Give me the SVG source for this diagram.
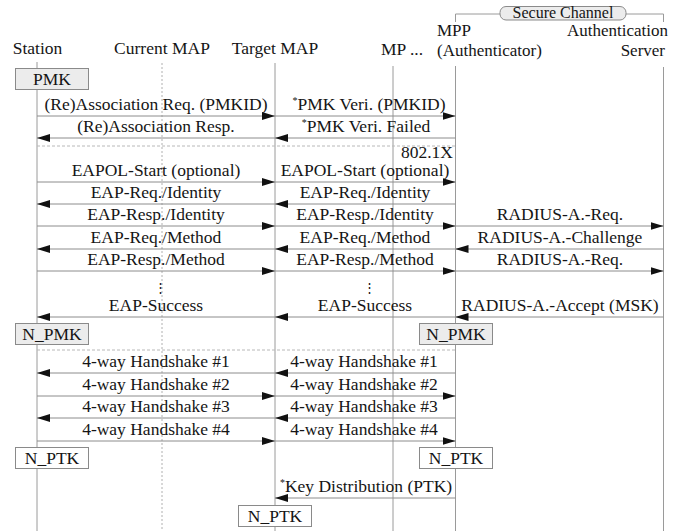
<svg xmlns="http://www.w3.org/2000/svg" width="681" height="531" viewBox="0 0 681 531">
  <style>
    text { font-family: "Liberation Serif", "Times New Roman", serif; font-size: 17.5px; fill: #151515; }
    .mid { text-anchor: middle; }
    .end { text-anchor: end; }
    .hd2 { font-size: 17px; }
    .life { stroke: #9a9a9a; stroke-width: 1; fill: none; }
    .dash { stroke: #b0b0b0; stroke-width: 1; stroke-dasharray: 2 2; fill: none; }
    .sep { stroke: #b8b8b8; stroke-width: 1; stroke-dasharray: 3 2; fill: none; }
    .msg { stroke: #8c8c8c; stroke-width: 1; fill: none; marker-end: url(#arrow); }
    .box { fill: #ececec; stroke: #8a8a8a; stroke-width: 1; }
    .wbox { fill: #ffffff; stroke: #8a8a8a; stroke-width: 1; }
    .sup { font-size: 10px; }
  </style>
  <defs>
    <marker id="arrow" markerUnits="userSpaceOnUse" markerWidth="13" markerHeight="8" refX="13" refY="4" orient="auto">
      <path d="M0,0 L13,4 L0,8 z" fill="#111"/>
    </marker>
  </defs>

  <rect width="681" height="531" fill="#ffffff"/>

  <!-- lifelines and headers -->
  <g id="station">
    <text class="mid" x="37.5" y="54">Station</text>
    <line class="life" x1="37" y1="62" x2="37" y2="531"/>
  </g>
  <g id="current-map">
    <text class="mid" x="162" y="54">Current MAP</text>
    <line class="dash" x1="162" y1="63" x2="162" y2="531"/>
  </g>
  <g id="target-map">
    <text class="mid" x="275" y="54">Target MAP</text>
    <line class="life" x1="275" y1="63" x2="275" y2="531"/>
  </g>
  <g id="mp">
    <text class="mid" x="402" y="55">MP ...</text>
    <line class="life" x1="393" y1="66" x2="393" y2="531"/>
  </g>
  <g id="mpp">
    <text class="hd2" x="437" y="36">MPP</text>
    <text class="hd2" x="437" y="55.5">(Authenticator)</text>
    <line class="life" x1="455.5" y1="66" x2="455.5" y2="531"/>
  </g>
  <g id="auth-server">
    <text class="end hd2" x="668" y="36">Authentication</text>
    <text class="end hd2" x="665" y="55.5">Server</text>
    <line class="life" x1="663.5" y1="67" x2="663.5" y2="531"/>
  </g>
  <g id="secure-channel">
    <path class="life" d="M455.5,22 V14 H500 M626,14 H663.5 V22"/>
    <rect x="500" y="6.5" width="126" height="13.5" rx="6" class="box"/>
    <text class="mid" x="563" y="17.5" style="font-size: 16px;">Secure Channel</text>
  </g>

  <!-- phase separators -->
  <g id="separators">
    <line class="sep" x1="37" y1="146" x2="455" y2="146"/>
    <line class="sep" x1="37" y1="350" x2="455" y2="350"/>
    <text class="end" x="453" y="158">802.1X</text>
  </g>

  <!-- key boxes -->
  <g id="pmk">
    <rect class="box" x="15.5" y="68.5" width="73" height="21"/>
    <text class="mid" x="52" y="85">PMK</text>
  </g>
  <g id="n-pmk-station">
    <rect class="box" x="15.5" y="323.5" width="73" height="21"/>
    <text class="mid" x="52" y="340">N_PMK</text>
  </g>
  <g id="n-pmk-mpp">
    <rect class="box" x="419.5" y="323.5" width="73" height="21"/>
    <text class="mid" x="456" y="340">N_PMK</text>
  </g>
  <g id="n-ptk-station">
    <rect class="wbox" x="15.5" y="447.5" width="73" height="21"/>
    <text class="mid" x="52" y="464">N_PTK</text>
  </g>
  <g id="n-ptk-mpp">
    <rect class="wbox" x="419.5" y="447.5" width="73" height="21"/>
    <text class="mid" x="456" y="464">N_PTK</text>
  </g>
  <g id="n-ptk-target">
    <rect class="wbox" x="238.5" y="505.5" width="73" height="21"/>
    <text class="mid" x="275" y="522">N_PTK</text>
  </g>

  <!-- messages -->
  <g id="connectors">
    <line class="msg" x1="37" y1="116" x2="275" y2="116"/>
    <line class="msg" x1="275" y1="116" x2="455.5" y2="116"/>
    <line class="msg" x1="275" y1="138" x2="37" y2="138"/>
    <line class="msg" x1="455.5" y1="138" x2="275" y2="138"/>

    <line class="msg" x1="37" y1="182" x2="275" y2="182"/>
    <line class="msg" x1="275" y1="182" x2="455.5" y2="182"/>
    <line class="msg" x1="275" y1="204" x2="37" y2="204"/>
    <line class="msg" x1="455.5" y1="204" x2="275" y2="204"/>
    <line class="msg" x1="37" y1="226" x2="275" y2="226"/>
    <line class="msg" x1="275" y1="226" x2="455.5" y2="226"/>
    <line class="msg" x1="455.5" y1="226" x2="663.5" y2="226"/>
    <line class="msg" x1="275" y1="249" x2="37" y2="249"/>
    <line class="msg" x1="455.5" y1="249" x2="275" y2="249"/>
    <line class="msg" x1="663.5" y1="249" x2="455.5" y2="249"/>
    <line class="msg" x1="37" y1="271" x2="275" y2="271"/>
    <line class="msg" x1="275" y1="271" x2="455.5" y2="271"/>
    <line class="msg" x1="455.5" y1="271" x2="663.5" y2="271"/>
    <line class="msg" x1="275" y1="317" x2="37" y2="317"/>
    <line class="msg" x1="455.5" y1="317" x2="275" y2="317"/>
    <line class="msg" x1="663.5" y1="317" x2="455.5" y2="317"/>

    <line class="msg" x1="275" y1="373" x2="37" y2="373"/>
    <line class="msg" x1="455.5" y1="373" x2="275" y2="373"/>
    <line class="msg" x1="37" y1="396" x2="275" y2="396"/>
    <line class="msg" x1="275" y1="396" x2="455.5" y2="396"/>
    <line class="msg" x1="275" y1="418" x2="37" y2="418"/>
    <line class="msg" x1="455.5" y1="418" x2="275" y2="418"/>
    <line class="msg" x1="37" y1="441" x2="275" y2="441"/>
    <line class="msg" x1="275" y1="441" x2="455.5" y2="441"/>

    <line class="msg" x1="455.5" y1="498" x2="275" y2="498"/>
  </g>

  <!-- message labels -->
  <g id="labels">
    <text class="mid" x="156" y="110">(Re)Association Req. (PMKID)</text>
    <text class="mid" x="369" y="110"><tspan class="sup" dy="-6">*</tspan><tspan dy="6">PMK Veri. (PMKID)</tspan></text>
    <text class="mid" x="156" y="132">(Re)Association Resp.</text>
    <text class="mid" x="366" y="132"><tspan class="sup" dy="-6">*</tspan><tspan dy="6">PMK Veri. Failed</tspan></text>

    <text class="mid" x="156" y="176">EAPOL-Start (optional)</text>
    <text class="mid" x="365" y="176">EAPOL-Start (optional)</text>
    <text class="mid" x="156" y="198">EAP-Req./Identity</text>
    <text class="mid" x="365" y="198">EAP-Req./Identity</text>
    <text class="mid" x="156" y="220">EAP-Resp./Identity</text>
    <text class="mid" x="365" y="220">EAP-Resp./Identity</text>
    <text class="mid" x="560" y="220">RADIUS-A.-Req.</text>
    <text class="mid" x="156" y="243">EAP-Req./Method</text>
    <text class="mid" x="365" y="243">EAP-Req./Method</text>
    <text class="mid" x="560" y="243">RADIUS-A.-Challenge</text>
    <text class="mid" x="156" y="265">EAP-Resp./Method</text>
    <text class="mid" x="365" y="265">EAP-Resp./Method</text>
    <text class="mid" x="560" y="265">RADIUS-A.-Req.</text>
    <text class="mid" x="160" y="292" style="font-family: 'DejaVu Serif', serif; font-size: 13px;">⋮</text>
    <text class="mid" x="369" y="292" style="font-family: 'DejaVu Serif', serif; font-size: 13px;">⋮</text>
    <text class="mid" x="156" y="311">EAP-Success</text>
    <text class="mid" x="365" y="311">EAP-Success</text>
    <text class="mid" x="560" y="311">RADIUS-A.-Accept (MSK)</text>

    <text class="mid" x="156" y="367">4-way Handshake #1</text>
    <text class="mid" x="364" y="367">4-way Handshake #1</text>
    <text class="mid" x="156" y="390">4-way Handshake #2</text>
    <text class="mid" x="364" y="390">4-way Handshake #2</text>
    <text class="mid" x="156" y="412">4-way Handshake #3</text>
    <text class="mid" x="364" y="412">4-way Handshake #3</text>
    <text class="mid" x="156" y="435">4-way Handshake #4</text>
    <text class="mid" x="364" y="435">4-way Handshake #4</text>

    <text class="mid" x="366" y="492"><tspan class="sup" dy="-6">*</tspan><tspan dy="6">Key Distribution (PTK)</tspan></text>
  </g>
</svg>
